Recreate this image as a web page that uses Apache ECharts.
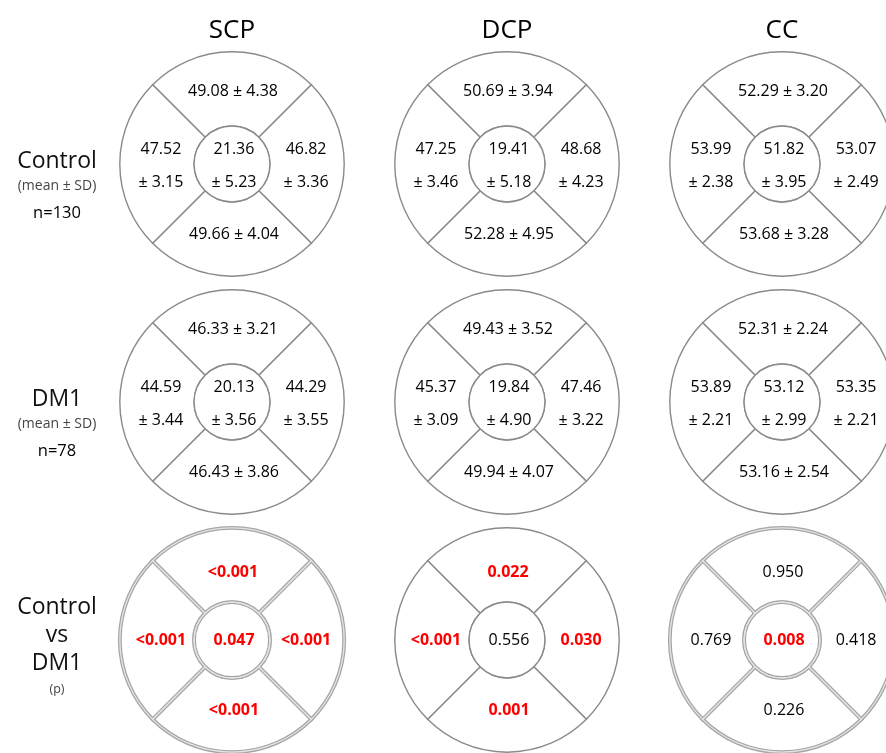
<!DOCTYPE html>
<html>
<head>
<meta charset="utf-8">
<script src="https://cdn.jsdelivr.net/npm/echarts@6/dist/echarts.min.js"></script>
<style>
  html, body { margin: 0; padding: 0; background: #fff; }
  #chart { width: 886px; height: 753px; }
</style>
</head>
<body>
<div id="chart"></div>
<script>
// Capillary plexus columns and comparison rows
const plexuses = ['SCP', 'DCP', 'CC'];
const groupLabels = ['Control', 'DM1', 'Control vs DM1'];
const groupSizes = [130, 78];
// Sector order inside every ring: centre, top, right, bottom, left
const sectorNames = ['Centre', 'Top', 'Right', 'Bottom', 'Left'];

// Control group, one row per plexus (SCP, DCP, CC)
const controlMean = [
  [21.36, 49.08, 46.82, 49.66, 47.52],
  [19.41, 50.69, 48.68, 52.28, 47.25],
  [51.82, 52.29, 53.07, 53.68, 53.99]
];
const controlSD = [
  [5.23, 4.38, 3.36, 4.04, 3.15],
  [5.18, 3.94, 4.23, 4.95, 3.46],
  [3.95, 3.20, 2.49, 3.28, 2.38]
];

// DM1 group
const dm1Mean = [
  [20.13, 46.33, 44.29, 46.43, 44.59],
  [19.84, 49.43, 47.46, 49.94, 45.37],
  [53.12, 52.31, 53.35, 53.16, 53.89]
];
const dm1SD = [
  [3.56, 3.21, 3.55, 3.86, 3.44],
  [4.90, 3.52, 3.22, 4.07, 3.09],
  [2.99, 2.24, 2.21, 2.54, 2.21]
];

// Control vs DM1 p-values
const pValues = [
  ['0.047', '<0.001', '<0.001', '<0.001', '<0.001'],
  ['0.556', '0.022', '0.030', '0.001', '<0.001'],
  ['0.008', '0.950', '0.418', '0.226', '0.769']
];

const FONT = "'Open Sans', 'DejaVu Sans', sans-serif";
const SIG_LEVEL = 0.05;

function isSignificant(p) {
  return parseFloat(p.replace('<', '')) < SIG_LEVEL;
}

// one item per ring: [plexus index, group index]
const rings = [];
groupLabels.forEach((g, row) => plexuses.forEach((p, col) => rings.push([col, row])));

function sectorText(col, row, s) {
  if (row === 2) return pValues[col][s];
  const mean = row === 0 ? controlMean : dm1Mean;
  const sd = row === 0 ? controlSD : dm1SD;
  const m = mean[col][s].toFixed(2);
  const d = sd[col][s].toFixed(2);
  // centre, left and right sectors are narrow: split over two lines
  return (s === 1 || s === 3) ? m + ' \u00b1 ' + d : m + '\n\u00b1 ' + d;
}

function renderRing(params, api) {
  const col = api.value(0);
  const row = api.value(1);
  const c = api.coord([col, row]);
  const band = api.size([1, 1])[0];
  const R = band * 0.408;
  const r0 = band * 0.138;
  const mid = (R + r0) / 2;

  const quarter = Math.PI / 4;
  const spans = [[-3, -1], [-1, 1], [1, 3], [3, 5]];
  const doubled = row === 2 && col !== 1;
  const passes = doubled
    ? [{ stroke: '#a6a6a6', lineWidth: 3.8, fill: '#fff' },
       { stroke: '#e4e4e4', lineWidth: 1.3, fill: 'none' }]
    : [{ stroke: '#8a8a8a', lineWidth: 1.4, fill: '#fff' }];

  const children = [];
  passes.forEach(p => {
    spans.forEach(s => {
      children.push({
        type: 'sector',
        shape: { cx: c[0], cy: c[1], r0: r0, r: R,
                 startAngle: s[0] * quarter, endAngle: s[1] * quarter, clockwise: true },
        style: { fill: p.fill, stroke: p.stroke, lineWidth: p.lineWidth }
      });
    });
    children.push({
      type: 'circle',
      shape: { cx: c[0], cy: c[1], r: r0 },
      style: { fill: p.fill, stroke: p.stroke, lineWidth: p.lineWidth }
    });
  });

  // label anchors for centre, top, right, bottom, left
  const single = row === 2;
  const anchors = [
    [2, single ? 0 : 2],
    [1, -(mid - (single ? 8 : 3))],
    [mid - 1, single ? 0 : 2],
    [2, mid - 5],
    [-(mid - 4), single ? 0 : 2]
  ];

  sectorNames.forEach((name, s) => {
    const txt = sectorText(col, row, s);
    const sig = row === 2 && isSignificant(txt);
    children.push({
      type: 'text',
      x: c[0] + anchors[s][0],
      y: c[1] + anchors[s][1],
      style: {
        text: txt,
        fill: sig ? '#ff0000' : '#000',
        fontSize: 16,
        fontFamily: FONT,
        fontWeight: sig ? 'bold' : 'normal',
        align: 'center',
        verticalAlign: 'middle',
        lineHeight: 33
      }
    });
  });

  return { type: 'group', children: children };
}

const chart = echarts.init(document.getElementById('chart'), null, { renderer: 'canvas' });

chart.setOption({
  backgroundColor: '#fff',
  animation: false,
  grid: { left: 232, right: 104, top: 164, bottom: 113, outerBoundsMode: 'none' },
  xAxis: {
    type: 'category',
    data: plexuses,
    position: 'top',
    boundaryGap: false,
    axisLine: { show: false },
    axisTick: { show: false },
    splitLine: { show: false },
    axisLabel: { interval: 0, margin: 120, fontSize: 26, color: '#000', fontFamily: FONT }
  },
  yAxis: {
    type: 'category',
    data: groupLabels,
    inverse: true,
    boundaryGap: false,
    axisLine: { show: false },
    axisTick: { show: false },
    splitLine: { show: false },
    axisLabel: {
      interval: 0,
      margin: 175,
      align: 'center',
      fontFamily: FONT,
      formatter: function (value, idx) {
        if (idx < 2) {
          return '{gapA| }\n{big|' + value + '}\n{small|(mean \u00b1 SD)}\n{n|n=' + groupSizes[idx] + '}';
        }
        const parts = value.split(' ');
        return '{gapB| }\n{big3|' + parts[0] + '}\n{big3|' + parts[1] + '}\n{big3|' + parts[2] + '}\n{p|(p)}';
      },
      rich: {
        gapA: { lineHeight: 48, fontSize: 2 },
        gapB: { lineHeight: 14, fontSize: 2 },
        big: { fontSize: 23, lineHeight: 26, color: '#111', fontFamily: FONT },
        big3: { fontSize: 23, lineHeight: 28, color: '#111', fontFamily: FONT },
        small: { fontSize: 14, lineHeight: 24, color: '#444', fontFamily: FONT },
        n: { fontSize: 16.5, lineHeight: 30, color: '#000', fontFamily: FONT },
        p: { fontSize: 12.5, lineHeight: 24, color: '#444', fontFamily: FONT }
      }
    }
  },
  series: [{
    type: 'custom',
    name: 'Vessel density',
    coordinateSystem: 'cartesian2d',
    renderItem: renderRing,
    data: rings,
    clip: false,
    silent: true
  }]
});
</script>
</body>
</html>
